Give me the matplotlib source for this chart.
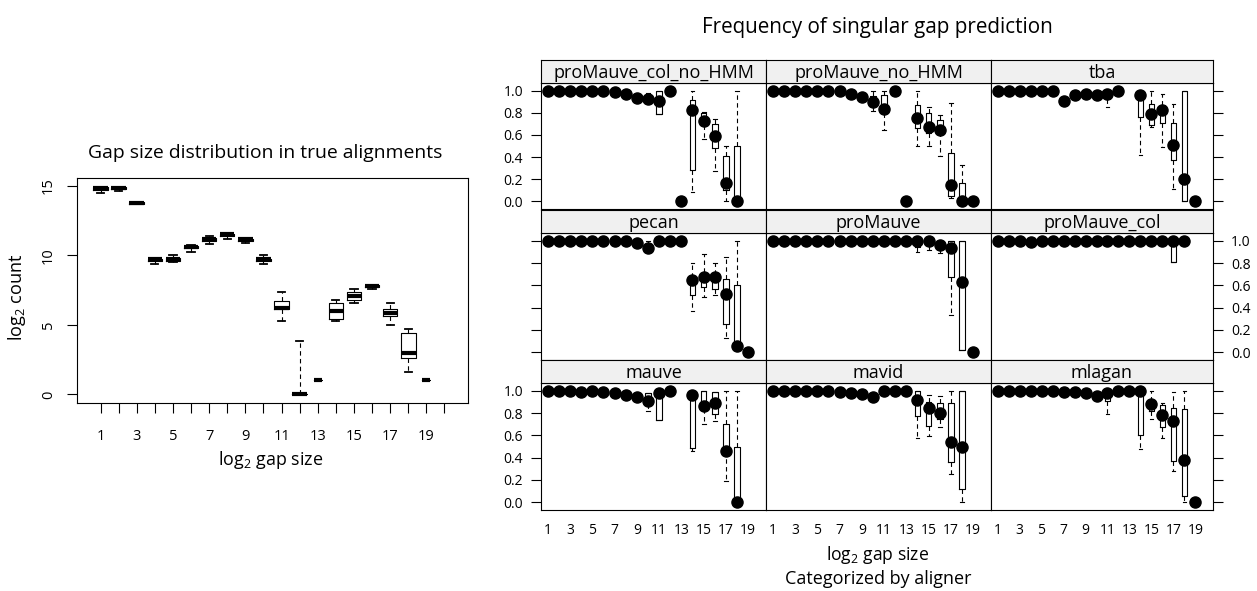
import numpy as np
import matplotlib
matplotlib.use('Agg')
import matplotlib.pyplot as plt

plt.rcParams['font.family'] = ['Open Sans', 'DejaVu Sans']
plt.rcParams['mathtext.fontset'] = 'custom'
plt.rcParams['mathtext.rm'] = 'Open Sans'
plt.rcParams['mathtext.it'] = 'Open Sans:italic'
plt.rcParams['mathtext.bf'] = 'Open Sans:bold'

nan = np.nan

# ---------------- left panel data: gap size distribution (log2 count) ----------------
gap_bins = list(range(1, 20))
left_whislo = [14.5, 14.6, 13.65, 9.4, 9.5, 10.2, 10.8, 11.2, 10.9, 9.4, 5.3, 0.0, 1.0, 5.3, 6.6, 7.6, 5.0, 1.6, 1.0]
left_q1 = [14.7, 14.75, 13.7, 9.6, 9.6, 10.5, 11.05, 11.4, 11.05, 9.6, 6.1, 0.0, 1.0, 5.45, 6.8, 7.75, 5.6, 2.6, 1.0]
left_med = [14.8, 14.85, 13.75, 9.7, 9.7, 10.6, 11.15, 11.5, 11.15, 9.7, 6.2, 0.0, 1.0, 6.0, 7.1, 7.8, 5.85, 3.0, 1.0]
left_q3 = [14.9, 14.9, 13.8, 9.75, 9.8, 10.65, 11.25, 11.55, 11.2, 9.75, 6.7, 0.0, 1.0, 6.6, 7.35, 7.85, 6.1, 4.4, 1.0]
left_whishi = [14.9, 14.9, 13.85, 9.8, 10.0, 10.7, 11.35, 11.6, 11.25, 10.0, 7.35, 3.8, 1.0, 6.75, 7.6, 7.85, 6.55, 4.7, 1.0]

# ---------------- right panels: frequency of singular gap prediction ----------------
panel_names = ['proMauve_col_no_HMM', 'proMauve_no_HMM', 'tba',
               'pecan', 'proMauve', 'proMauve_col',
               'mauve', 'mavid', 'mlagan']

# medians (dots) for gap bins 1..19 (nan = no data)
med_pMcnH = [1, 1, 1, 1, 1, 1, 0.99, 0.97, 0.94, 0.925, 0.91, 1, 0, 0.83, 0.73, 0.59, 0.165, 0, nan]
med_pMnH = [1, 1, 1, 1, 1, 1, 1, 0.975, 0.945, 0.90, 0.835, 1, 0, 0.75, 0.675, 0.645, 0.145, 0, 0]
med_tba = [1, 1, 1, 1, 1, 1, 0.91, 0.96, 0.97, 0.96, 0.975, 1, nan, 0.96, 0.787, 0.826, 0.505, 0.2, 0]
med_pecan = [1, 1, 1, 1, 1, 1, 1, 1, 0.98, 0.94, 1, 1, 1, 0.65, 0.68, 0.675, 0.525, 0.05, 0]
med_pM = [1, 1, 1, 1, 1, 1, 1, 1, 1, 1, 1, 1, 1, 1, 1, 0.965, 0.935, 0.63, 0]
med_pMc = [1, 1, 1, 0.99, 1, 1, 1, 1, 1, 1, 1, 1, 1, 1, 1, 1, 1, 1, nan]
med_mauve = [1, 1, 1, 0.99, 1, 0.995, 0.98, 0.96, 0.945, 0.91, 0.985, 1, nan, 0.96, 0.865, 0.89, 0.46, 0.0, nan]
med_mavid = [1, 1, 1, 1, 1, 1, 0.995, 0.985, 0.97, 0.945, 1, 1, 1, 0.92, 0.845, 0.805, 0.54, 0.5, nan]
med_mlagan = [1, 1, 1, 1, 1, 1, 0.995, 0.99, 0.98, 0.955, 0.98, 1, 1, 1, 0.88, 0.78, 0.73, 0.38, 0]

# boxes: (gap bin, whisker low, q1, q3, whisker high)
box_pMcnH = [(10, 0.90, 0.92, 0.95, 0.985), (11, 0.79, 0.79, 1.0, 1.0), (14, 0.08, 0.285, 0.92, 1.0),
             (15, 0.56, 0.69, 0.80, 0.81), (16, 0.27, 0.48, 0.70, 0.745), (17, 0.0, 0.105, 0.41, 0.5),
             (18, 0.0, 0.0, 0.5, 1.0)]
box_pMnH = [(10, 0.82, 0.86, 0.95, 1.0), (11, 0.645, 0.80, 0.96, 1.0), (14, 0.5, 0.667, 0.87, 1.0),
            (15, 0.5, 0.615, 0.80, 0.855), (16, 0.405, 0.63, 0.74, 0.78), (17, 0.03, 0.045, 0.44, 0.89),
            (18, 0.0, 0.0, 0.165, 0.33)]
box_tba = [(11, 0.855, 0.93, 0.98, 1.0), (14, 0.415, 0.765, 1.0, 1.0), (15, 0.67, 0.69, 0.88, 1.0),
           (16, 0.495, 0.71, 0.87, 0.975), (17, 0.11, 0.375, 0.705, 0.88), (18, 0.0, 0.0, 1.0, 1.0)]
box_pecan = [(10, 0.94, 0.94, 0.97, 1.0), (14, 0.365, 0.51, 0.605, 0.80), (15, 0.5, 0.585, 0.65, 0.88),
             (16, 0.51, 0.565, 0.635, 0.80), (17, 0.125, 0.25, 0.66, 0.86), (18, 0.05, 0.05, 0.6, 1.0)]
box_pM = [(14, 0.905, 0.95, 1.0, 1.0), (15, 0.915, 0.96, 1.0, 1.0), (16, 0.89, 0.93, 1.0, 1.0),
          (17, 0.335, 0.675, 1.0, 1.0), (18, 0.02, 0.02, 1.0, 1.0)]
box_pMc = [(17, 0.81, 0.81, 1.0, 1.0)]
box_mauve = [(10, 0.82, 0.88, 0.985, 0.985), (11, 0.74, 0.74, 0.985, 0.985), (14, 0.455, 0.49, 0.985, 0.985),
             (15, 0.70, 0.91, 1.0, 1.0), (16, 0.73, 0.79, 0.995, 0.995), (17, 0.19, 0.46, 0.70, 1.0),
             (18, 0.0, 0.0, 0.5, 1.0)]
box_mavid = [(14, 0.58, 0.775, 1.0, 1.0), (15, 0.595, 0.685, 0.90, 0.96), (16, 0.675, 0.745, 0.89, 0.955),
             (17, 0.25, 0.36, 0.89, 1.0), (18, 0.0, 0.12, 1.0, 1.0)]
box_mlagan = [(11, 0.79, 0.91, 0.98, 1.0), (14, 0.48, 0.6, 1.0, 1.0), (15, 0.745, 0.82, 0.91, 1.0),
              (16, 0.58, 0.68, 0.87, 0.895), (17, 0.28, 0.37, 0.85, 0.99), (18, 0.0, 0.05, 0.835, 1.0)]

panel_meds = [med_pMcnH, med_pMnH, med_tba, med_pecan, med_pM, med_pMc, med_mauve, med_mavid, med_mlagan]
panel_boxes = [box_pMcnH, box_pMnH, box_tba, box_pecan, box_pM, box_pMc, box_mauve, box_mavid, box_mlagan]

y_ticks = [0.0, 0.2, 0.4, 0.6, 0.8, 1.0]
x_ticks = [1, 3, 5, 7, 9, 11, 13, 15, 17, 19]

# ---------------- figure ----------------
W, H, DPI = 1257, 591, 100
fig = plt.figure(figsize=(W / DPI, H / DPI), dpi=DPI)
renderer = fig.canvas.get_renderer()


def ax_px(x0, y0, x1, y1, **kw):
    return fig.add_axes([x0 / W, 1 - y1 / H, (x1 - x0) / W, (y1 - y0) / H], **kw)


def fit(t, target, use_height=False):
    bb = t.get_window_extent(renderer=renderer)
    cur = bb.height if use_height else bb.width
    t.set_fontsize(t.get_fontsize() * target / cur)
    return t


def ftext(x, y, s, **kw):
    return fig.text(x / W, 1 - y / H, s, ha='center', va='center', **kw)


LW = 0.8
# ---------------- left boxplot ----------------
axL = ax_px(77, 178, 468, 403)
stats = []
widths = []
for i in range(len(gap_bins)):
    stats.append(dict(med=left_med[i], q1=left_q1[i], q3=left_q3[i],
                      whislo=left_whislo[i], whishi=left_whishi[i], fliers=[]))
    widths.append(0.8 if left_whishi[i] > left_whislo[i] else 0.45)
axL.bxp(stats, positions=gap_bins, widths=widths, showfliers=False, manage_ticks=False,
        boxprops=dict(color='black', lw=LW),
        medianprops=dict(color='black', lw=3, solid_capstyle='butt'),
        whiskerprops=dict(color='black', lw=LW, linestyle=(0, (4, 3))),
        capprops=dict(color='black', lw=1.3),
        capwidths=[w / 2 for w in widths])
axL.set_xlim(-0.3, 21.3)
axL.set_ylim(-0.62, 15.55)
axL.set_xticks(range(1, 21))
axL.set_xticklabels([str(v) if v % 2 == 1 else '' for v in range(1, 21)])
axL.set_yticks([0, 5, 10, 15])
axL.set_yticklabels(['0', '5', '10', '15'])
axL.tick_params(axis='x', length=7, width=LW, pad=12, labelsize=10.5)
axL.tick_params(axis='y', length=7, width=LW, pad=8, labelsize=10.5, labelrotation=90)
for lab in axL.get_yticklabels():
    lab.set_va('center')
for s in axL.spines.values():
    s.set_linewidth(LW)

t = ftext(265, 153, 'Gap size distribution in true alignments', fontsize=13)
fit(t, 354)
t = ftext(271, 460, r'log$_2$ gap size', fontsize=12)
fit(t, 105)
t = fig.text(17 / W, 1 - 297 / H, r'log$_2$ count', ha='center', va='center', rotation=90, fontsize=12)
fit(t, 88, use_height=True)

# ---------------- right lattice panels ----------------
col_x = [(541, 766), (766, 991), (991, 1213)]
row_y = [(60, 83, 209), (210, 233, 360), (360, 383, 510)]
strip_size = None
for k, name in enumerate(panel_names):
    r, c = divmod(k, 3)
    x0, x1 = col_x[c]
    sy0, py0, py1 = row_y[r]
    ax = ax_px(x0, py0, x1, py1)
    ax.set_xlim(0.4, 20.6)
    ax.set_ylim(-0.072, 1.072)
    bstats = [dict(med=(b[2] + b[3]) / 2, q1=b[2], q3=b[3], whislo=b[1], whishi=b[4], fliers=[])
              for b in panel_boxes[k]]
    if bstats:
        ax.bxp(bstats, positions=[b[0] for b in panel_boxes[k]], widths=0.5, showfliers=False,
               manage_ticks=False,
               boxprops=dict(color='black', lw=LW),
               medianprops=dict(linestyle='none'),
               whiskerprops=dict(color='black', lw=LW, linestyle=(0, (4, 3))),
               capprops=dict(color='black', lw=LW), capwidths=0.35)
    ax.plot(gap_bins, panel_meds[k], 'o', ms=8, color='black', zorder=5, clip_on=False)
    for s in ax.spines.values():
        s.set_linewidth(LW)
    ax.set_xticks(x_ticks)
    if r == 2:
        ax.set_xticklabels([str(v) for v in x_ticks])
        ax.tick_params(axis='x', length=0, pad=9, labelsize=10)
    else:
        ax.tick_params(axis='x', length=0, labelbottom=False)
    ax.set_yticks(y_ticks)
    ax.set_yticklabels(['%.1f' % v for v in y_ticks])
    left_on = (c == 0)
    right_on = (c == 2)
    lab_left = left_on and r != 1
    lab_right = right_on and r == 1
    ax.tick_params(axis='y', left=left_on, right=right_on, labelleft=lab_left, labelright=lab_right,
                   length=7, width=LW, pad=6, labelsize=10)
    # strip
    sax = ax_px(x0, sy0, x1, py0)
    sax.set_facecolor('#f0f0f0')
    sax.set_xticks([])
    sax.set_yticks([])
    for s in sax.spines.values():
        s.set_linewidth(LW)
    st = sax.text(0.5, 0.42, name, ha='center', va='center', transform=sax.transAxes, fontsize=12)
    if k == 0:
        fit(st, 200)
        strip_size = st.get_fontsize()
    else:
        st.set_fontsize(strip_size)

t = ftext(877, 28, 'Frequency of singular gap prediction', fontsize=13)
fit(t, 350)
t = ftext(878, 555, r'log$_2$ gap size', fontsize=12)
fit(t, 103)
t = ftext(878, 579, 'Categorized by aligner', fontsize=12)
fit(t, 186)

fig.savefig('out.png', dpi=DPI)
